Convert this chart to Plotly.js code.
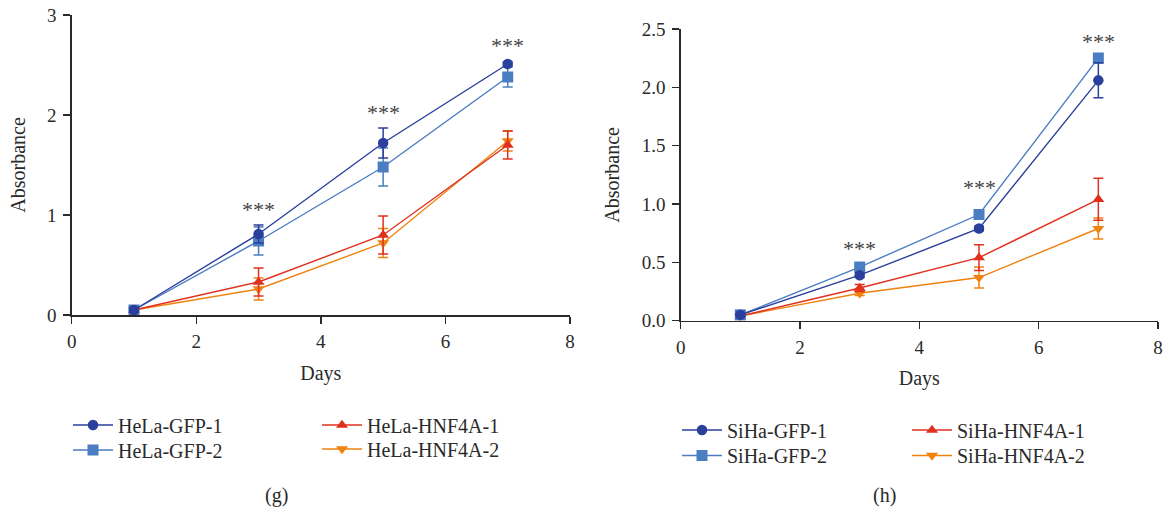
<!DOCTYPE html>
<html>
<head>
<meta charset="utf-8">
<script src="https://cdn.plot.ly/plotly-3.0.1.min.js"></script>
<style>
  html, body { margin: 0; padding: 0; background: #fff; }
  #chart { width: 1166px; height: 509px; }
</style>
</head>
<body>
<div id="chart"></div>
<script>
// Days of measurement shared by both panels
const days = [1, 3, 5, 7];

// Panel (g): HeLa cells
const helaNames = ["HeLa-GFP-1", "HeLa-GFP-2", "HeLa-HNF4A-1", "HeLa-HNF4A-2"];
const helaGfp1 = [0.05, 0.81, 1.72, 2.51];
const helaGfp1Err = [0.02, 0.09, 0.15, 0.02];
const helaGfp2 = [0.05, 0.74, 1.48, 2.38];
const helaGfp2Err = [0.03, 0.14, 0.19, 0.10];
const helaHnf1 = [0.05, 0.33, 0.80, 1.70];
const helaHnf1Err = [0.02, 0.14, 0.19, 0.14];
const helaHnf2 = [0.05, 0.26, 0.72, 1.74];
const helaHnf2Err = [0.02, 0.11, 0.145, 0.10];
const helaStarY = [1.06, 2.02, 2.69];

// Panel (h): SiHa cells
const sihaNames = ["SiHa-GFP-1", "SiHa-GFP-2", "SiHa-HNF4A-1", "SiHa-HNF4A-2"];
const sihaGfp1 = [0.05, 0.39, 0.79, 2.06];
const sihaGfp1Err = [0.01, 0.02, 0.02, 0.15];
const sihaGfp2 = [0.05, 0.46, 0.91, 2.25];
const sihaGfp2Err = [0.01, 0.02, 0.02, 0.04];
const sihaHnf1 = [0.04, 0.28, 0.54, 1.04];
const sihaHnf1Err = [0.01, 0.03, 0.11, 0.18];
const sihaHnf2 = [0.04, 0.235, 0.37, 0.79];
const sihaHnf2Err = [0.01, 0.02, 0.09, 0.09];
const sihaStarY = [0.62, 1.14, 2.39];

const starDays = [3, 5, 7];
const xTicks = [0, 2, 4, 6, 8];

const COL = {
  gfp1: "#2b3f9c",
  gfp2: "#4a7dc1",
  hnf1: "#e0301e",
  hnf2: "#f0820f"
};
const FONT = "Liberation Serif, Times New Roman, serif";
const INK = "#2a2a2a";
const W = 1166, H = 509;

function series(name, y, err, color, symbol, xa, ya, legend) {
  return {
    type: "scatter",
    mode: "lines+markers",
    name: name,
    x: days,
    y: y,
    xaxis: xa,
    yaxis: ya,
    legend: legend,
    showlegend: true,
    line: { color: color, width: 1.4 },
    marker: { color: color, symbol: symbol, size: symbol === "square" ? 11 : 10.5 },
    error_y: { type: "data", array: err, visible: true, color: color, thickness: 1.5, width: 5 },
    cliponaxis: false
  };
}

// Drawn back-to-front so the GFP markers sit on top; each entry has its own legend box
const data = [
  series(helaNames[3], helaHnf2, helaHnf2Err, COL.hnf2, "triangle-down", "x", "y", "legend4"),
  series(helaNames[2], helaHnf1, helaHnf1Err, COL.hnf1, "triangle-up", "x", "y", "legend3"),
  series(helaNames[1], helaGfp2, helaGfp2Err, COL.gfp2, "square", "x", "y", "legend2"),
  series(helaNames[0], helaGfp1, helaGfp1Err, COL.gfp1, "circle", "x", "y", "legend"),
  series(sihaNames[3], sihaHnf2, sihaHnf2Err, COL.hnf2, "triangle-down", "x2", "y2", "legend8"),
  series(sihaNames[2], sihaHnf1, sihaHnf1Err, COL.hnf1, "triangle-up", "x2", "y2", "legend7"),
  series(sihaNames[1], sihaGfp2, sihaGfp2Err, COL.gfp2, "square", "x2", "y2", "legend6"),
  series(sihaNames[0], sihaGfp1, sihaGfp1Err, COL.gfp1, "circle", "x2", "y2", "legend5")
];

function xAxis(x0, x1, anchor) {
  return {
    domain: [x0 / W, x1 / W], anchor: anchor, range: [0, 8],
    tickvals: xTicks, ticks: "outside", ticklen: 7, tickwidth: 1.3, tickcolor: INK,
    showline: true, linecolor: INK, linewidth: 1.5, showgrid: false, zeroline: false,
    ticklabelstandoff: 2,
    tickfont: { family: FONT, size: 19, color: INK },
    title: { text: "Days", font: { family: FONT, size: 20, color: INK }, standoff: 14 }
  };
}
function yAxis(yBottom, yTop, anchor, range, dtick, fmt) {
  return {
    domain: [1 - yBottom / H, 1 - yTop / H], anchor: anchor, range: range, dtick: dtick, tick0: 0,
    tickformat: fmt,
    ticks: "outside", ticklen: 7, tickwidth: 1.3, tickcolor: INK,
    showline: true, linecolor: INK, linewidth: 1.5, showgrid: false, zeroline: false,
    ticklabelstandoff: 3,
    tickfont: { family: FONT, size: 19, color: INK },
    title: { text: "Absorbance", font: { family: FONT, size: 20, color: INK }, standoff: 16 }
  };
}
function legendAt(px, py) {
  return {
    x: px / W, y: 1 - py / H, xref: "paper", yref: "paper", xanchor: "left", yanchor: "middle",
    orientation: "v", bgcolor: "rgba(0,0,0,0)", itemwidth: 40,
    font: { family: FONT, size: 20, color: INK }, itemclick: false
  };
}

const annotations = [];
const starFont = { family: FONT, size: 22, color: "#444" };
starDays.forEach((d, i) => {
  annotations.push({ x: d, y: helaStarY[i], xref: "x", yref: "y", text: "***", showarrow: false, font: starFont });
  annotations.push({ x: d, y: sihaStarY[i], xref: "x2", yref: "y2", text: "***", showarrow: false, font: starFont });
});
annotations.push({ x: 276 / W, y: 1 - 495 / H, xref: "paper", yref: "paper", xanchor: "center", yanchor: "middle",
  text: "(g)", showarrow: false, font: { family: FONT, size: 20, color: INK } });
annotations.push({ x: 884 / W, y: 1 - 495 / H, xref: "paper", yref: "paper", xanchor: "center", yanchor: "middle",
  text: "(h)", showarrow: false, font: { family: FONT, size: 20, color: INK } });

const layout = {
  width: W, height: H,
  margin: { l: 0, r: 0, t: 0, b: 0 },
  paper_bgcolor: "#fff", plot_bgcolor: "#fff",
  font: { family: FONT, color: INK },
  showlegend: true,
  xaxis: xAxis(71.7, 570, "y"),
  yaxis: yAxis(315, 15, "x", [0, 3], 1, "d"),
  xaxis2: xAxis(680.7, 1158, "y2"),
  yaxis2: yAxis(320.7, 29, "x2", [0, 2.5], 0.5, ".1f"),
  legend: legendAt(68, 425),
  legend2: legendAt(68, 450),
  legend3: legendAt(317, 425),
  legend4: legendAt(317, 449),
  legend5: legendAt(677, 430),
  legend6: legendAt(677, 455.5),
  legend7: legendAt(907, 430),
  legend8: legendAt(907, 455.5),
  annotations: annotations
};

Plotly.newPlot("chart", data, layout, { displayModeBar: false, staticPlot: true });
</script>
</body>
</html>
